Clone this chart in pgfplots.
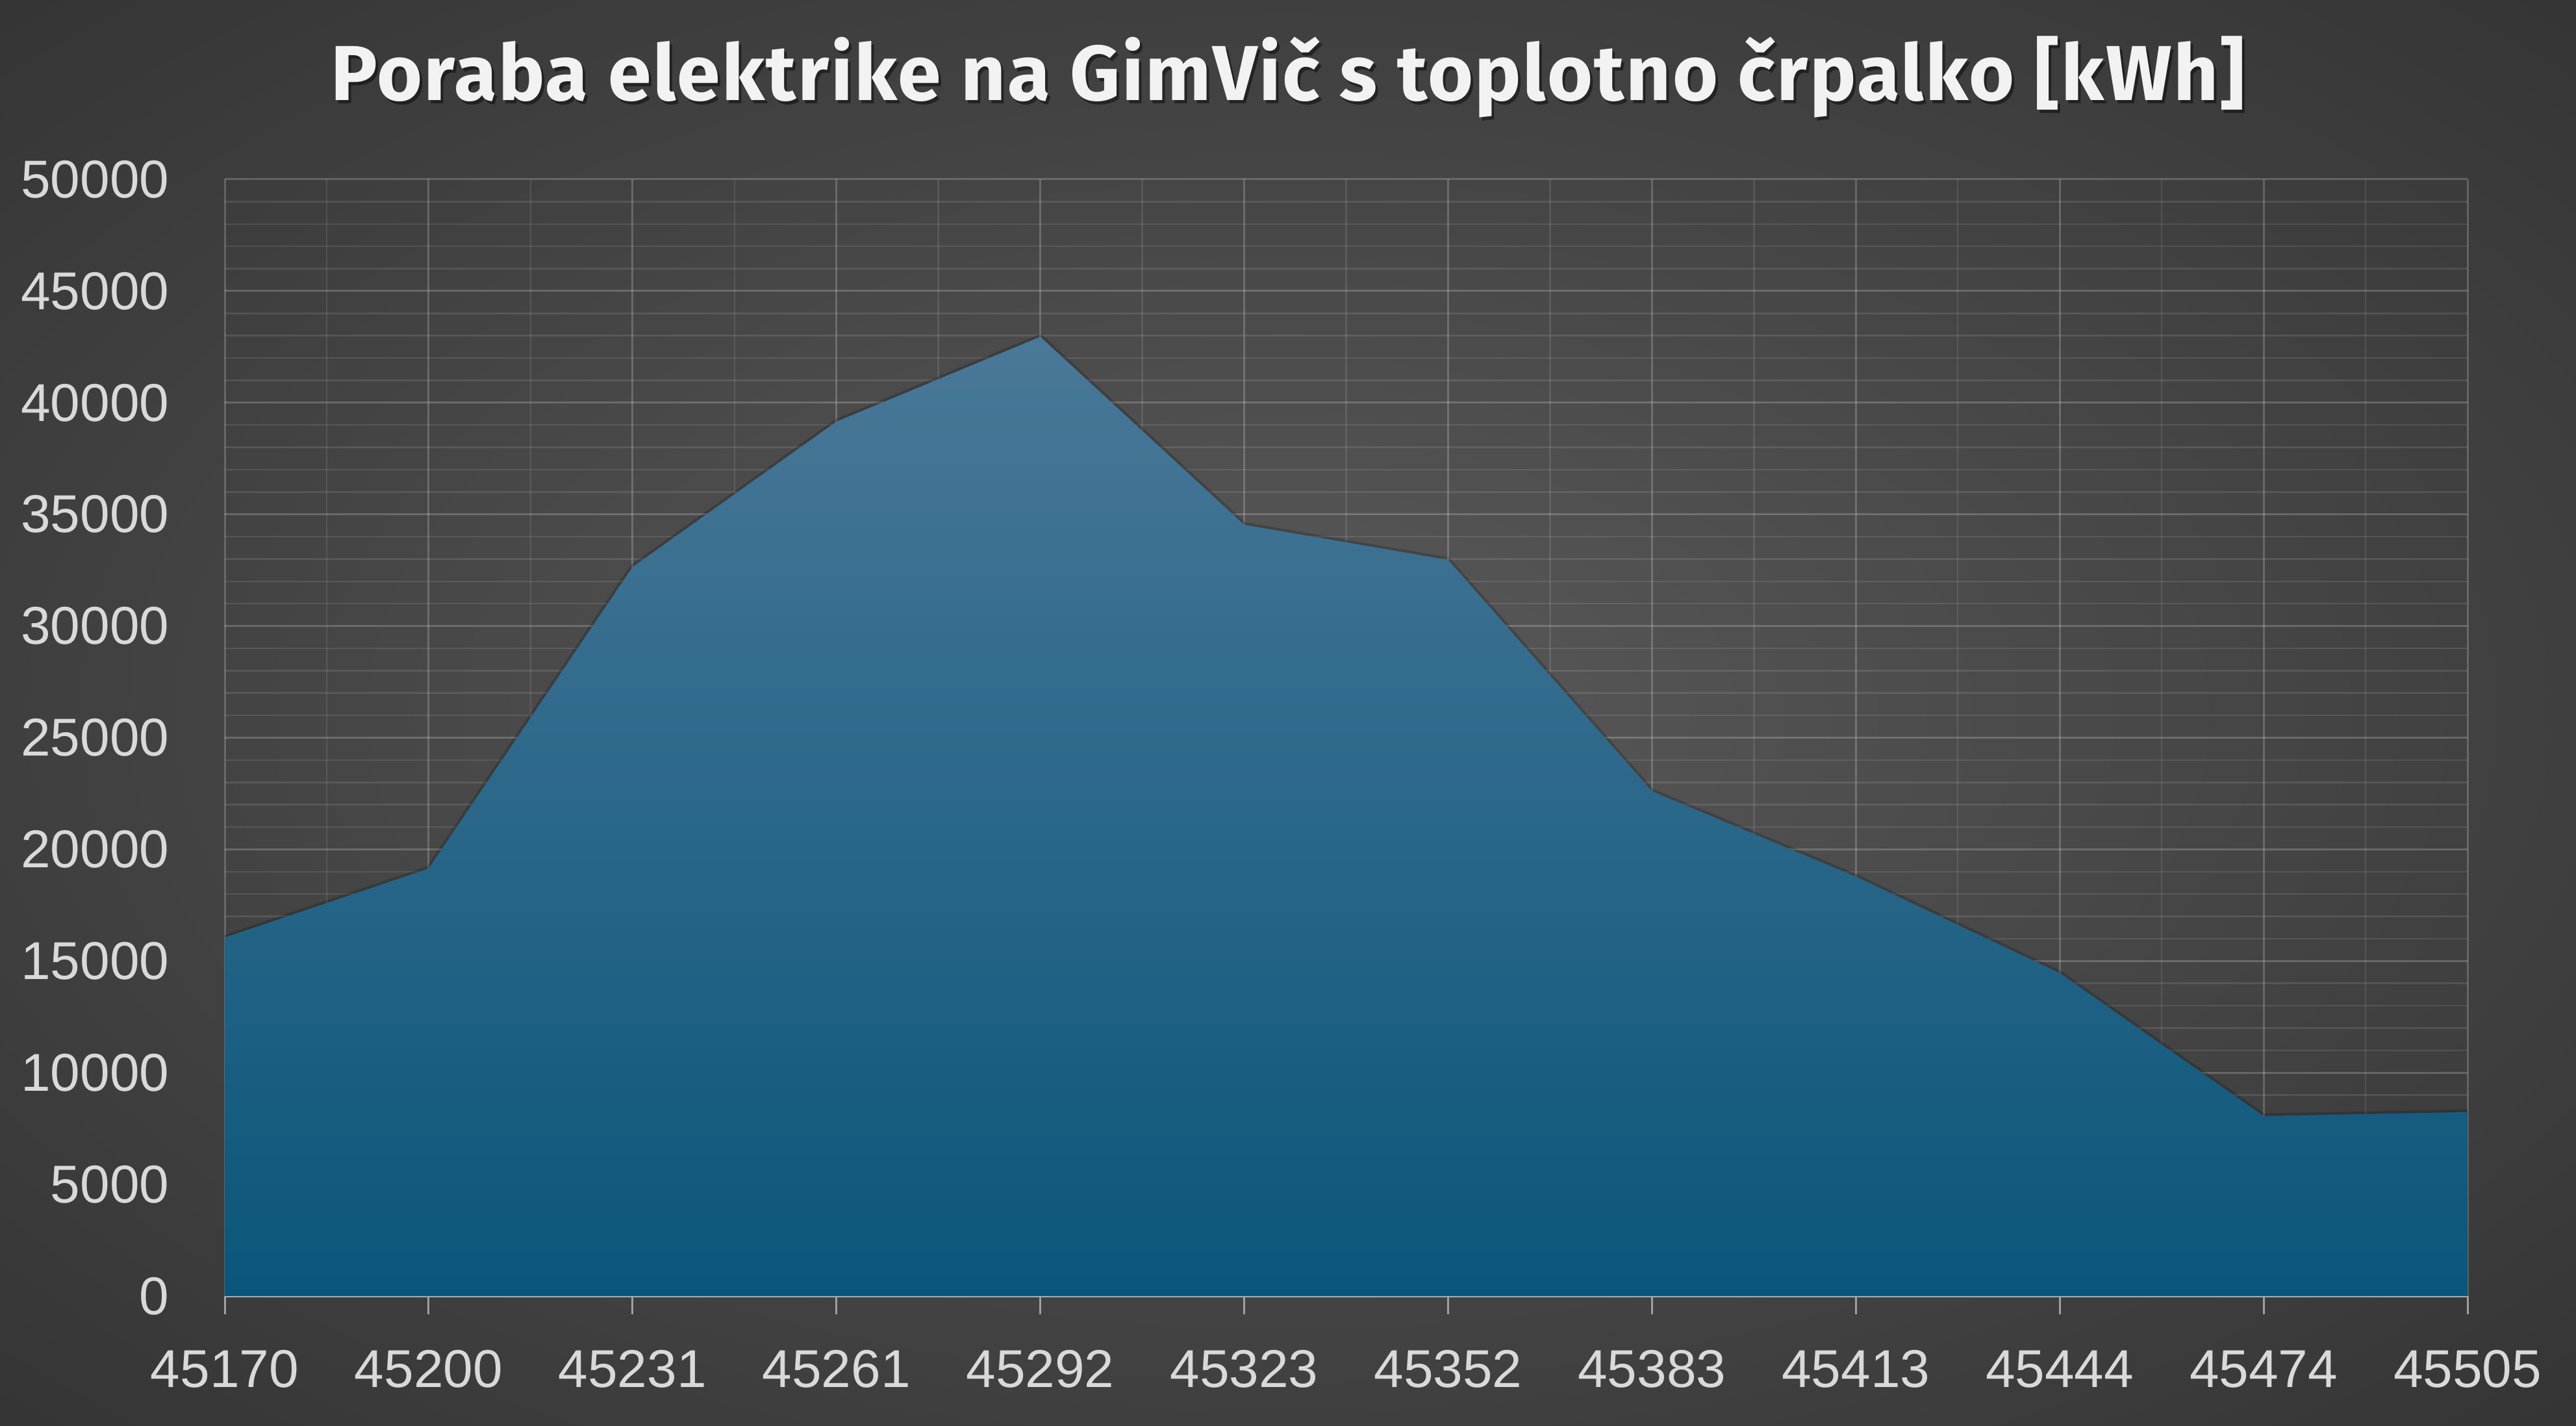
\documentclass[border=0pt]{standalone}
\usepackage{fontspec}
\setmainfont{Liberation Sans}
\newfontfamily\titlefont[LetterSpace=2.0]{Fira Sans}
\usepackage{pgfplots}
\pgfplotsset{compat=1.18}
\definecolor{bgin}{RGB}{90,90,90}
\definecolor{bgmid}{RGB}{66,66,66}
\definecolor{bgout}{RGB}{38,38,38}
\definecolor{areaTop}{RGB}{74,120,152}
\definecolor{areaMid}{RGB}{24,99,138}
\definecolor{areaBot}{RGB}{10,86,122}
\definecolor{lbl}{RGB}{217,217,217}
\definecolor{ttl}{RGB}{242,242,242}
\definecolor{axln}{RGB}{165,172,178}
\definecolor{tickc}{RGB}{160,160,160}
\pgfdeclareradialshading{bgshade}{\pgfpoint{0bp}{0bp}}{color(0bp)=(bgin); color(22bp)=(bgmid); color(50bp)=(bgout); color(100bp)=(bgout)}
\begin{document}
\begin{tikzpicture}
\path[use as bounding box] (0,0) rectangle (793.2pt,439pt);
\fill[shading=bgshade] (0,0) rectangle (793.2pt,439pt);
\node[text=black, opacity=0.45] at (397.4pt,414.4pt) {\titlefont\bfseries\fontsize{24}{28}\selectfont Poraba elektrike na GimVič s toplotno črpalko [kWh]};
\node[text=ttl] at (396.6pt,415.4pt) {\titlefont\bfseries\fontsize{24}{28}\selectfont Poraba elektrike na GimVič s toplotno črpalko [kWh]};
\begin{axis}[
  at={(69.2pt,40pt)}, anchor=south west,
  scale only axis, width=690.6pt, height=343.8pt,
  xmin=0, xmax=11, ymin=0, ymax=50000,
  xtick={0,1,2,3,4,5,6,7,8,9,10,11},
  xticklabels={45170,45200,45231,45261,45292,45323,45352,45383,45413,45444,45474,45505},
  minor x tick num=1,
  ytick={0,5000,10000,15000,20000,25000,30000,35000,40000,45000,50000},
  yticklabels={0,5000,10000,15000,20000,25000,30000,35000,40000,45000,50000},
  scaled y ticks=false,
  minor y tick num=4,
  grid=both,
  major grid style={draw=white, draw opacity=0.2, line width=0.6pt},
  minor grid style={draw=white, draw opacity=0.1, line width=0.5pt},
  axis x line*=bottom, axis y line*=left,
  y axis line style={draw=none},
  x axis line style={draw=axln, line width=0.9pt, -},
  tick align=outside,
  major tick length=5.6pt, minor tick length=0pt,
  xtick style={draw=tickc, line width=0.6pt},
  ytick style={draw=none},
  ticklabel style={font=\fontsize{16.4}{18}\selectfont, text=lbl},
  /pgf/number format/assume math mode=true,
  xticklabel style={yshift=-7.6pt},
  yticklabel style={xshift=-8pt},
  clip=false,
]
\addplot[draw=black, draw opacity=0.18, line width=1.6pt, forget plot] coordinates {
(0,16050) (1,19140) (2,32640) (3,39150) (4,42950) (5,34530) (6,32960) (7,22600) (8,18780) (9,14460) (10,8060) (11,8240)};
\addplot[draw=none, top color=areaTop, middle color=areaMid, bottom color=areaBot] coordinates {
(0,16050) (1,19140) (2,32640) (3,39150) (4,42950) (5,34530) (6,32960) (7,22600) (8,18780) (9,14460) (10,8060) (11,8240)} \closedcycle;
\end{axis}
\end{tikzpicture}
\end{document}
